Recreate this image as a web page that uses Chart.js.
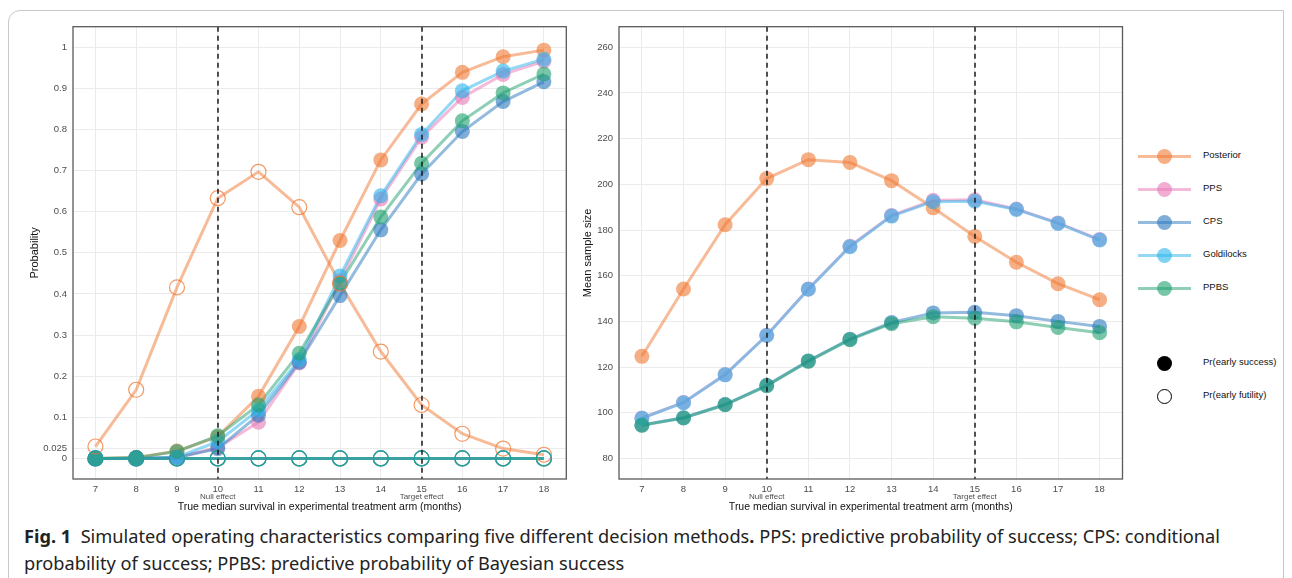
<!DOCTYPE html>
<html>
<head>
<meta charset="utf-8">
<script src="https://cdn.jsdelivr.net/npm/chart.js@4.4.1/dist/chart.umd.min.js"></script>
<style>
  body { margin: 0; width: 1292px; height: 578px; background: #fff; position: relative; overflow: hidden; font-family: "Liberation Sans", Arial, sans-serif; }
  .frame { position: absolute; left: 8px; top: 10px; width: 1276px; height: 600px; border: 1px solid #c8c8c8; border-top-left-radius: 12px; box-sizing: border-box; }
  .panel { position: absolute; top: 15px; width: 555px; height: 505px; }
  #left { left: 20px; }
  #right { left: 575px; }
  .legend { position: absolute; left: 1138px; top: 0; font-size: 9.5px; color: #111; }
  .item { position: absolute; left: 0; width: 150px; height: 20px; }
  .item .ln { position: absolute; left: 0; top: 8.5px; width: 53px; height: 3px; }
  .item .dot { position: absolute; left: 19px; top: 2.5px; width: 15px; height: 15px; border-radius: 50%; box-sizing: border-box; }
  .item span { position: absolute; left: 65px; top: 3px; white-space: nowrap; }
  .caption { position: absolute; left: 24px; top: 523px; width: 1250px; font-family: "Noto Sans", "Open Sans", sans-serif; font-size: 18.2px; line-height: 27px; color: #222; }
  .caption b { font-weight: 700; }
</style>
</head>
<body>
<div class="frame"></div>
<div class="panel" id="left"><canvas id="c1"></canvas></div>
<div class="panel" id="right"><canvas id="c2"></canvas></div>
<div class="legend" id="legend"></div>
<div class="caption"><b>Fig. 1</b>&nbsp; Simulated operating characteristics comparing five different decision methods<b>.</b> PPS: predictive probability of success; CPS: conditional probability of success; PPBS: predictive probability of Bayesian success</div>
<script>
"use strict";

// data
const xs = [7, 8, 9, 10, 11, 12, 13, 14, 15, 16, 17, 18];
const methods = ["Posterior", "PPS", "CPS", "Goldilocks", "PPBS"];

// Pr(early success), left panel
const successPosterior = [0, 0.002, 0.018, 0.053, 0.151, 0.321, 0.530, 0.726, 0.862, 0.939, 0.977, 0.993];
const successPPS = [0, 0, 0.003, 0.026, 0.088, 0.232, 0.432, 0.631, 0.781, 0.878, 0.934, 0.966];
const successCPS = [0, 0, 0.002, 0.024, 0.105, 0.234, 0.396, 0.556, 0.692, 0.795, 0.868, 0.916];
const successGoldilocks = [0, 0, 0.003, 0.041, 0.118, 0.240, 0.444, 0.639, 0.788, 0.894, 0.942, 0.971];
const successPPBS = [0, 0.002, 0.017, 0.055, 0.130, 0.256, 0.426, 0.587, 0.718, 0.821, 0.889, 0.935];

// Pr(early futility), left panel
const futilityPosterior = [0.029, 0.167, 0.416, 0.633, 0.697, 0.611, 0.425, 0.260, 0.130, 0.060, 0.024, 0.009];
const futilityPPS = [0, 0, 0, 0, 0, 0, 0, 0, 0, 0, 0, 0];
const futilityCPS = [0, 0, 0, 0, 0, 0, 0, 0, 0, 0, 0, 0];
const futilityGoldilocks = [0, 0, 0, 0, 0, 0, 0, 0, 0, 0, 0, 0];
const futilityPPBS = [0, 0, 0, 0, 0, 0, 0, 0, 0, 0, 0, 0];

// mean sample size, right panel
const sizePosterior = [124.7, 154.2, 182.3, 202.5, 210.8, 209.6, 201.6, 189.7, 177.2, 165.9, 156.5, 149.5];
const sizePPS = [97.7, 104.5, 116.7, 133.9, 154.2, 172.9, 186.3, 193.0, 193.2, 189.2, 183.1, 175.8];
const sizeCPS = [94.6, 97.8, 103.6, 112.0, 122.7, 132.2, 139.5, 143.7, 144.0, 142.5, 140.0, 137.8];
const sizeGoldilocks = [97.6, 104.4, 116.6, 133.8, 154.1, 172.7, 186.1, 192.4, 192.6, 189.0, 182.9, 175.6];
const sizePPBS = [94.5, 97.7, 103.5, 111.8, 122.5, 132.0, 139.0, 142.0, 141.4, 139.8, 137.3, 135.0];

const xTicks = xs;
const probTicks = [0, 0.025, 0.1, 0.2, 0.3, 0.4, 0.5, 0.6, 0.7, 0.8, 0.9, 1];
const sizeTicks = [80, 100, 120, 140, 160, 180, 200, 220, 240, 260];
const vlines = [10, 15];
const vlineLabels = ["Null effect", "Target effect"];
const xTitle = "True median survival in experimental treatment arm (months)";

const success = [successPosterior, successPPS, successCPS, successGoldilocks, successPPBS];
const futility = [futilityPosterior, futilityPPS, futilityCPS, futilityGoldilocks, futilityPPBS];
const sizes = [sizePosterior, sizePPS, sizeCPS, sizeGoldilocks, sizePPBS];

const colors = [[240, 120, 50], [231, 120, 180], [40, 120, 190], [40, 180, 235], [30, 160, 110]];
const rgba = (c, a) => `rgba(${c[0]},${c[1]},${c[2]},${a})`;
const pts = (arr) => xs.map((x, i) => ({ x: x, y: arr[i] }));

const FONT = '"Liberation Sans", Arial, sans-serif';

const decor = {
  id: "decor",
  afterDatasetsDraw(chart) {
    const { ctx, chartArea: a, scales } = chart;
    const x = scales.x;
    ctx.save();
    ctx.strokeStyle = "#1a1a1a";
    ctx.lineWidth = 1.5;
    ctx.setLineDash([5, 4]);
    vlines.forEach((v) => {
      const px = Math.round(x.getPixelForValue(v));
      ctx.beginPath();
      ctx.moveTo(px, a.top);
      ctx.lineTo(px, a.bottom);
      ctx.stroke();
    });
    ctx.setLineDash([]);
    ctx.strokeStyle = "#5a5a5a";
    ctx.lineWidth = 1.3;
    ctx.strokeRect(a.left, a.top, a.right - a.left, a.bottom - a.top);
    ctx.textAlign = "center";
    ctx.textBaseline = "middle";
    ctx.fillStyle = "#4d4d4d";
    ctx.font = "8px " + FONT;
    vlines.forEach((v, i) => ctx.fillText(vlineLabels[i], x.getPixelForValue(v), a.bottom + 18));
    ctx.fillStyle = "#111";
    ctx.font = "10.5px " + FONT;
    ctx.fillText(xTitle, (a.left + a.right) / 2, a.bottom + 28);
    ctx.restore();
  },
};

function makeScales(yMin, yMax, yTicks, yTitle, yWidth, titlePad) {
  return {
    x: {
      type: "linear",
      min: 6.45,
      max: 18.55,
      afterBuildTicks: (s) => { s.ticks = xTicks.map((v) => ({ value: v })); },
      afterFit: (s) => { s.height = 41; },
      grid: { color: "#ebebeb", lineWidth: 1, drawTicks: false },
      border: { display: false },
      ticks: { color: "#4d4d4d", font: { size: 9.5, family: FONT }, padding: 5, callback: (v) => String(v) },
    },
    y: {
      type: "linear",
      min: yMin,
      max: yMax,
      afterBuildTicks: (s) => { s.ticks = yTicks.map((v) => ({ value: v })); },
      afterFit: (s) => { s.width = yWidth; },
      grid: { color: "#ebebeb", lineWidth: 1, drawTicks: false },
      border: { display: false },
      ticks: { color: "#4d4d4d", font: { size: 9.5, family: FONT }, padding: 6, callback: (v) => String(v) },
      title: { display: true, text: yTitle, color: "#111", font: { size: 11, family: FONT }, padding: { top: titlePad, bottom: 0 } },
    },
  };
}

function lineSet(data, c, order) {
  return {
    data: pts(data), borderColor: rgba(c, 0.5), borderWidth: 3, pointRadius: 0,
    showLine: true, fill: false, tension: 0, order: order,
  };
}
function pointSet(data, c, hollow, order) {
  return {
    data: pts(data), showLine: false, pointRadius: 7.5, order: order,
    pointBackgroundColor: hollow ? "rgba(0,0,0,0)" : rgba(c, 0.6),
    pointBorderColor: hollow ? rgba(c, 0.75) : "rgba(0,0,0,0)",
    pointBorderWidth: hollow ? 1.2 : 0,
  };
}

function baseOptions(scales) {
  return {
    responsive: true,
    maintainAspectRatio: false,
    animation: false,
    devicePixelRatio: 1,
    layout: { padding: { top: 1.5, right: 5, left: 0, bottom: 0 } },
    plugins: { legend: { display: false }, tooltip: { enabled: false } },
    scales: scales,
  };
}

// left panel: probability
const leftSets = [];
let ord = 0;
methods.forEach((m, i) => { leftSets.push(lineSet(success[i], colors[i], ord--)); });
methods.forEach((m, i) => { leftSets.push(lineSet(futility[i], colors[i], ord--)); });
methods.forEach((m, i) => { leftSets.push(pointSet(success[i], colors[i], false, ord--)); });
methods.forEach((m, i) => { leftSets.push(pointSet(futility[i], colors[i], true, ord--)); });

new Chart(document.getElementById("c1"), {
  type: "scatter",
  data: { datasets: leftSets },
  options: baseOptions(makeScales(-0.05, 1.05, probTicks, "Probability", 53, 8)),
  plugins: [decor],
});

// right panel: mean sample size
const rightSets = [];
ord = 0;
methods.forEach((m, i) => { rightSets.push(lineSet(sizes[i], colors[i], ord--)); });
methods.forEach((m, i) => { rightSets.push(pointSet(sizes[i], colors[i], false, ord--)); });

new Chart(document.getElementById("c2"), {
  type: "scatter",
  data: { datasets: rightSets },
  options: baseOptions(makeScales(71, 269, sizeTicks, "Mean sample size", 44, 6)),
  plugins: [decor],
});

// legend
const legend = document.getElementById("legend");
const legendTops = [146, 179, 212, 245, 278];
methods.forEach((m, i) => {
  const d = document.createElement("div");
  d.className = "item";
  d.style.top = legendTops[i] + "px";
  d.innerHTML = `<div class="ln" style="background:${rgba(colors[i], 0.5)}"></div>` +
    `<div class="dot" style="background:${rgba(colors[i], 0.6)}"></div><span>${m}</span>`;
  legend.appendChild(d);
});
[["Pr(early success)", 353, false], ["Pr(early futility)", 386, true]].forEach(([label, top, hollow]) => {
  const d = document.createElement("div");
  d.className = "item";
  d.style.top = top + "px";
  d.innerHTML = `<div class="dot" style="${hollow ? "border:1.3px solid #000;background:#fff" : "background:#000"}"></div><span>${label}</span>`;
  legend.appendChild(d);
});
</script>
</body>
</html>
